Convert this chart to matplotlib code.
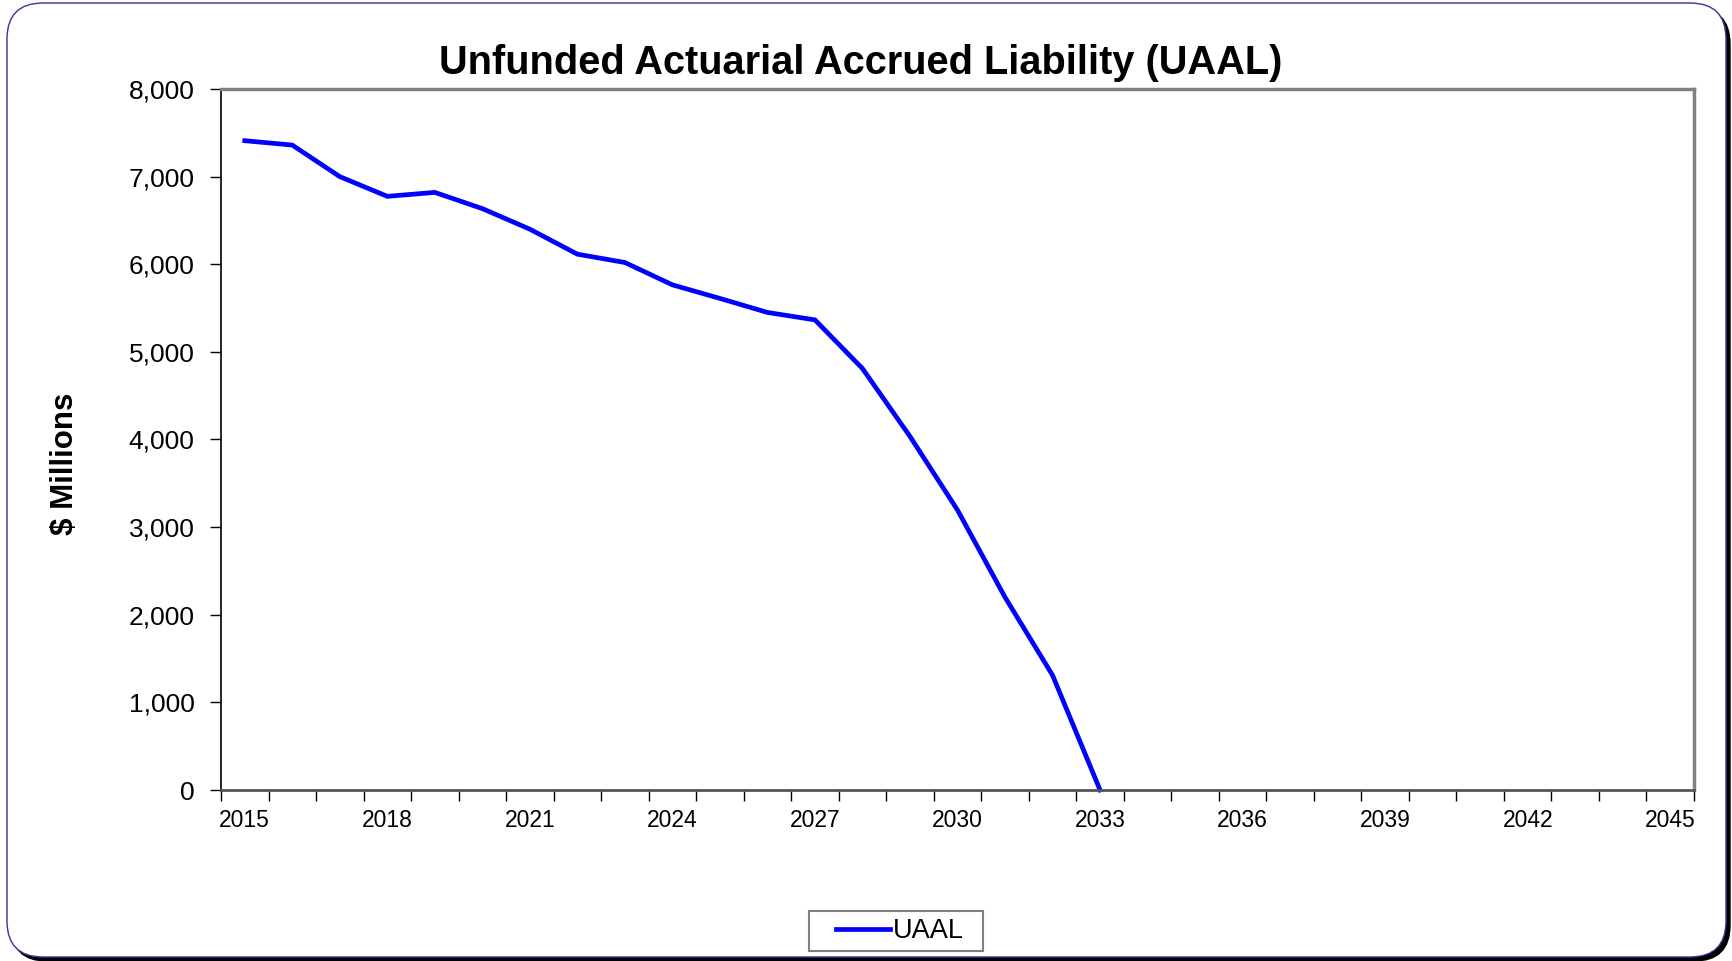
import matplotlib.pyplot as plt
from matplotlib.patches import FancyBboxPatch, Rectangle
from matplotlib.ticker import StrMethodFormatter

plt.rcParams['font.family'] = ['Liberation Sans', 'DejaVu Sans']

# data ($ millions)
years = list(range(2015, 2046))
uaal = [7410, 7360, 7000, 6775, 6820, 6635, 6400, 6115, 6020, 5765,
        5610, 5450, 5365, 4810, 4035, 3195, 2200, 1310, 0]
y_ticks = [0, 1000, 2000, 3000, 4000, 5000, 6000, 7000, 8000]

fig = plt.figure(figsize=(17.32, 9.61), dpi=100)

# rounded chart-area border with a dark shadow (Excel style)
shadow = FancyBboxPatch((0.11, 0.0), 17.19, 9.53,
                        boxstyle="round,pad=0,rounding_size=0.36",
                        transform=fig.dpi_scale_trans, facecolor='black',
                        edgecolor='black', zorder=-3)
border = FancyBboxPatch((0.07, 0.04), 17.19, 9.54,
                        boxstyle="round,pad=0,rounding_size=0.36",
                        transform=fig.dpi_scale_trans, facecolor='white',
                        edgecolor='#333399', linewidth=1.0, zorder=-2)
fig.add_artist(shadow)
fig.add_artist(border)

ax = fig.add_axes([221 / 1732, 1 - 790 / 961, (1694 - 221) / 1732, (790 - 89) / 961])
x = list(range(len(uaal)))
ax.plot(x, uaal, color='#0000FF', linewidth=3.4, solid_joinstyle='miter',
        label='UAAL', clip_on=False)

ax.set_xlim(-0.5, len(years) - 0.5)
ax.set_ylim(0, 8000)

# category axis: ticks between categories, labels every 3rd year
ax.set_xticks(range(0, len(years), 3))
ax.set_xticklabels([str(y) for y in years[::3]])
ax.set_xticks([i - 0.5 for i in range(len(years) + 1)], minor=True)
ax.tick_params(axis='x', which='major', length=0, pad=14, labelsize=16.5)
ax.tick_params(axis='x', which='minor', length=8, width=1, direction='out', color='black')

ax.set_yticks(y_ticks)
ax.yaxis.set_major_formatter(StrMethodFormatter('{x:,.0f}'))
ax.tick_params(axis='y', length=8, width=1, direction='out', pad=11, labelsize=19)

ax.spines['left'].set_color('black')
ax.spines['left'].set_linewidth(1.2)
ax.spines['bottom'].set_color('#555555')
ax.spines['bottom'].set_linewidth(2.0)
ax.spines['top'].set_color('#808080')
ax.spines['top'].set_linewidth(2.5)
ax.spines['right'].set_color('#808080')
ax.spines['right'].set_linewidth(2.5)

ax.set_ylabel('$ Millions', fontsize=22.5, fontweight='bold')
ax.yaxis.set_label_coords(-0.0955, 0.465)

fig.text(861 / 1732, 1 - 63 / 961, 'Unfunded Actuarial Accrued Liability (UAAL)',
         ha='center', va='center', fontsize=28.6, fontweight='bold')

# legend box drawn separately so the padding matches the original
fig.add_artist(Rectangle((809 / 1732, 1 - 951 / 961), 174 / 1732, 40 / 961,
                         transform=fig.transFigure, facecolor='white',
                         edgecolor='#808080', linewidth=1.5, zorder=1))
leg = fig.legend(loc='center', bbox_to_anchor=(900 / 1732, 1 - 931 / 961),
                 fontsize=19.5, frameon=False, handlelength=2.0,
                 handletextpad=0.1, borderpad=0, borderaxespad=0)
leg.set_zorder(2)

fig.savefig('out.png', dpi=100)
